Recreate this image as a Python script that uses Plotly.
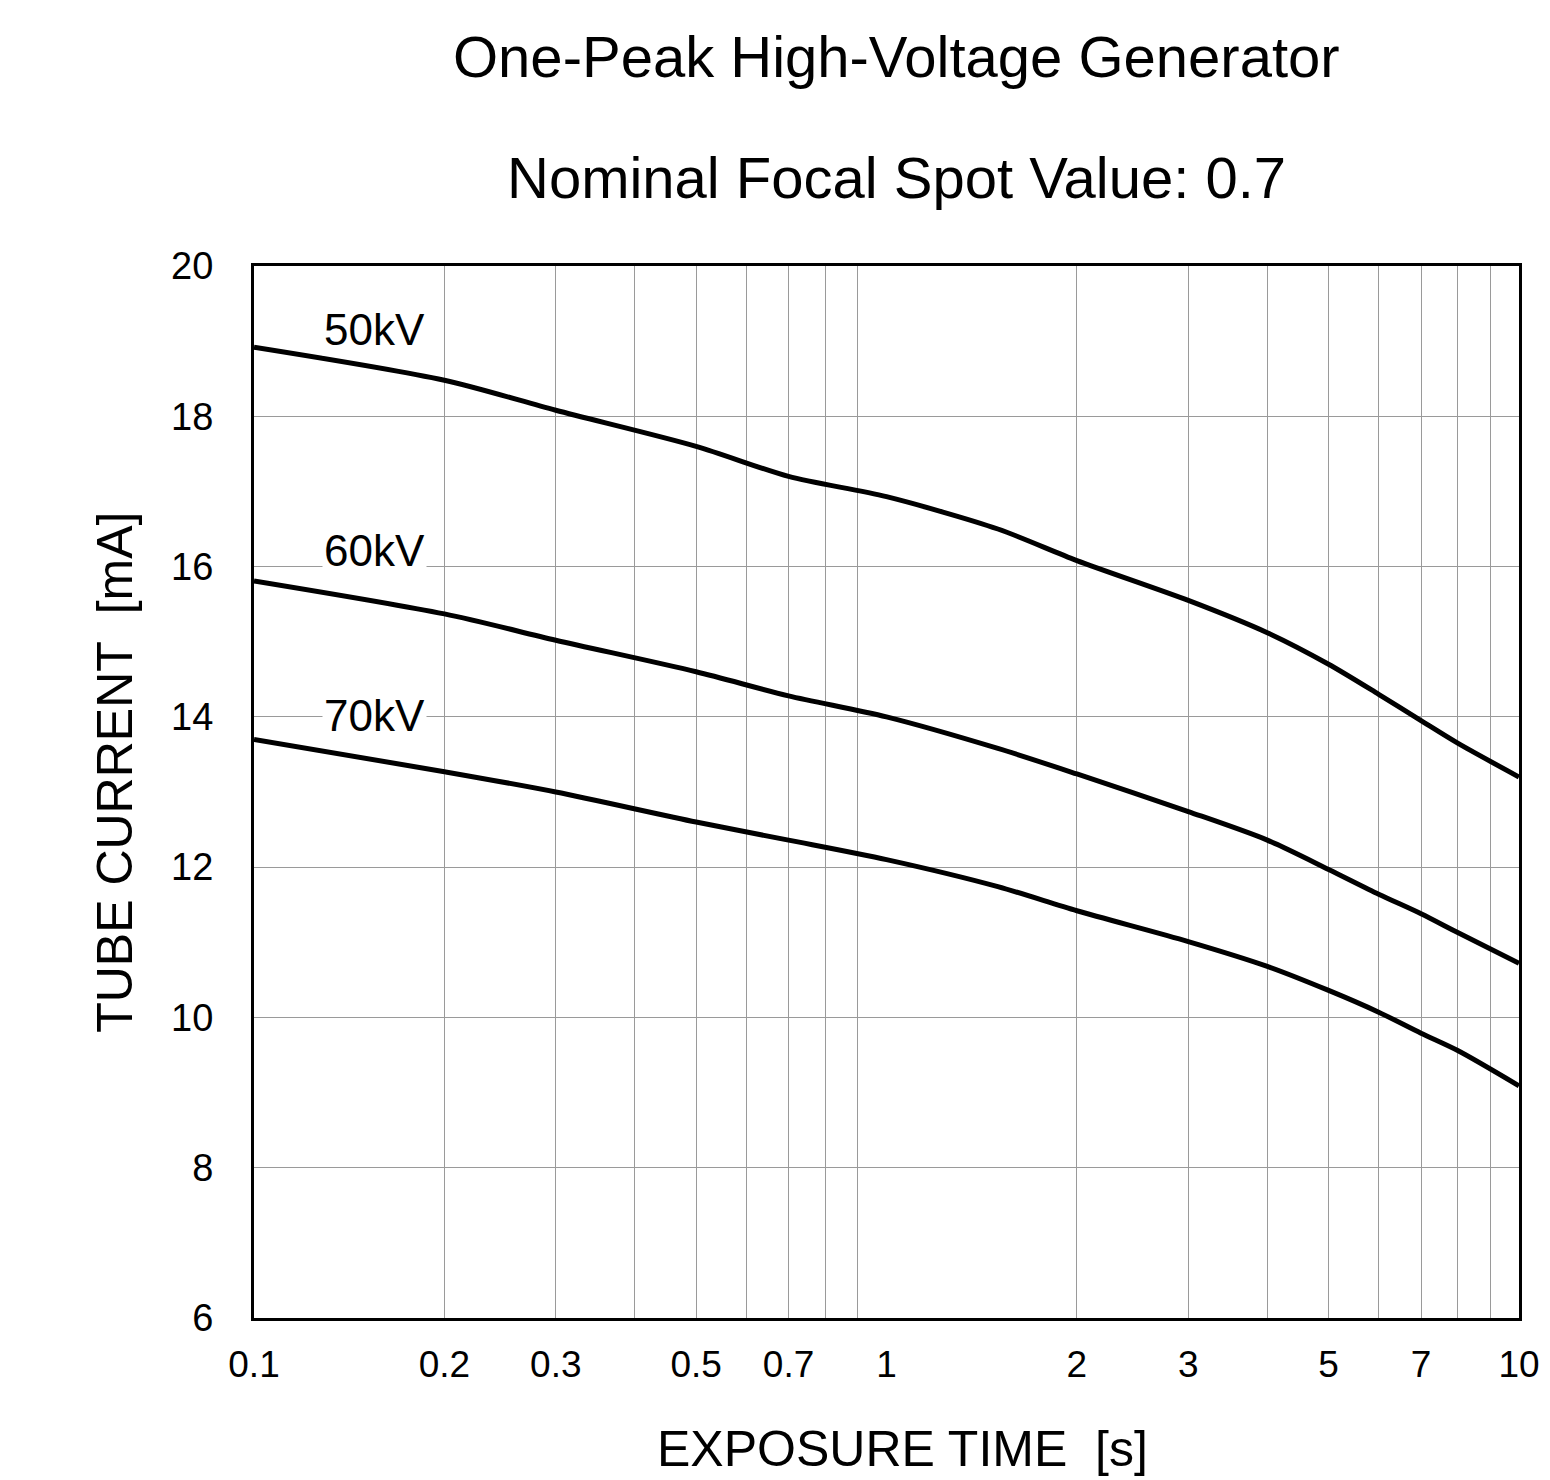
import math
import plotly.graph_objects as go

# exposure time [s]
exposure_time = [0.1, 0.2, 0.3, 0.5, 0.7, 1, 1.5, 2, 3, 4, 5, 6, 7, 8, 10]

# tube current [mA] per tube voltage
current_50kv = [18.92, 18.48, 18.08, 17.6, 17.2, 16.93, 16.5, 16.08, 15.55, 15.12, 14.7, 14.3, 13.95, 13.65, 13.2]
current_60kv = [15.81, 15.37, 15.02, 14.6, 14.28, 14.0, 13.58, 13.24, 12.74, 12.36, 11.97, 11.64, 11.38, 11.13, 10.72]
current_70kv = [13.7, 13.27, 13.0, 12.6, 12.36, 12.1, 11.74, 11.42, 11.01, 10.68, 10.36, 10.07, 9.79, 9.56, 9.09]

series_names = ['50kV', '60kV', '70kV']
label_y = [19.16, 16.22, 14.02]

x_ticks = [0.1, 0.2, 0.3, 0.5, 0.7, 1, 2, 3, 5, 7, 10]
x_grid = [0.2, 0.3, 0.4, 0.5, 0.6, 0.7, 0.8, 0.9, 2, 3, 4, 5, 6, 7, 8, 9]
y_ticks = [6, 8, 10, 12, 14, 16, 18, 20]

FONT = 'Liberation Sans, Arial, sans-serif'

fig = go.Figure()
for name, ys in zip(series_names, [current_50kv, current_60kv, current_70kv]):
    fig.add_trace(go.Scatter(x=exposure_time, y=ys, mode='lines', name=name,
                             line=dict(color='black', width=5, shape='spline', smoothing=0.8),
                             showlegend=False))

# curve labels sitting on a white box so they hide the gridlines
for name, y in zip(series_names, label_y):
    fig.add_annotation(text=name, x=math.log10(0.155), y=y, xref='x', yref='y',
                       showarrow=False, bgcolor='white', font=dict(size=44, color='black', family=FONT))

# two-line title
fig.add_annotation(text='One-Peak High-Voltage Generator', x=0.508, y=1.1987, xref='paper', yref='paper',
                   xanchor='center', yanchor='middle',
                   showarrow=False, font=dict(size=58, color='black', family=FONT))
fig.add_annotation(text='Nominal Focal Spot Value: 0.7', x=0.508, y=1.0846, xref='paper', yref='paper',
                   xanchor='center', yanchor='middle',
                   showarrow=False, font=dict(size=58, color='black', family=FONT))

# axis titles
fig.add_annotation(text='EXPOSURE TIME  [s]', x=0.513, y=-0.1245, xref='paper', yref='paper',
                   xanchor='center', yanchor='middle',
                   showarrow=False, font=dict(size=50, color='black', family=FONT))
fig.add_annotation(text='TUBE CURRENT  [mA]', x=-0.110, y=0.519, xref='paper', yref='paper',
                   xanchor='center', yanchor='middle',
                   showarrow=False, textangle=-90, font=dict(size=50, color='black', family=FONT))

fig.update_xaxes(type='log', range=[-1, 1], tickvals=x_ticks, ticktext=[str(v) for v in x_ticks],
                 showgrid=False, zeroline=False,
                 ticks='outside', ticklen=12, tickcolor='rgba(0,0,0,0)',
                 tickfont=dict(size=37, color='black', family=FONT),
                 minor=dict(tickvals=x_grid, showgrid=True, gridcolor='#9a9a9a', gridwidth=1, ticks=''),
                 showline=True, mirror=True, linecolor='black', linewidth=3)
fig.update_yaxes(range=[6, 20], tickvals=y_ticks, showgrid=True, gridcolor='#9a9a9a', gridwidth=1,
                 zeroline=False, ticks='outside', ticklen=30, tickcolor='rgba(0,0,0,0)',
                 tickfont=dict(size=38, color='black', family=FONT),
                 showline=True, mirror=True, linecolor='black', linewidth=3)

fig.update_layout(width=1544, height=1474, plot_bgcolor='white', paper_bgcolor='white',
                  margin=dict(l=246, r=31, t=258, b=164))

fig.write_html("out.html")
